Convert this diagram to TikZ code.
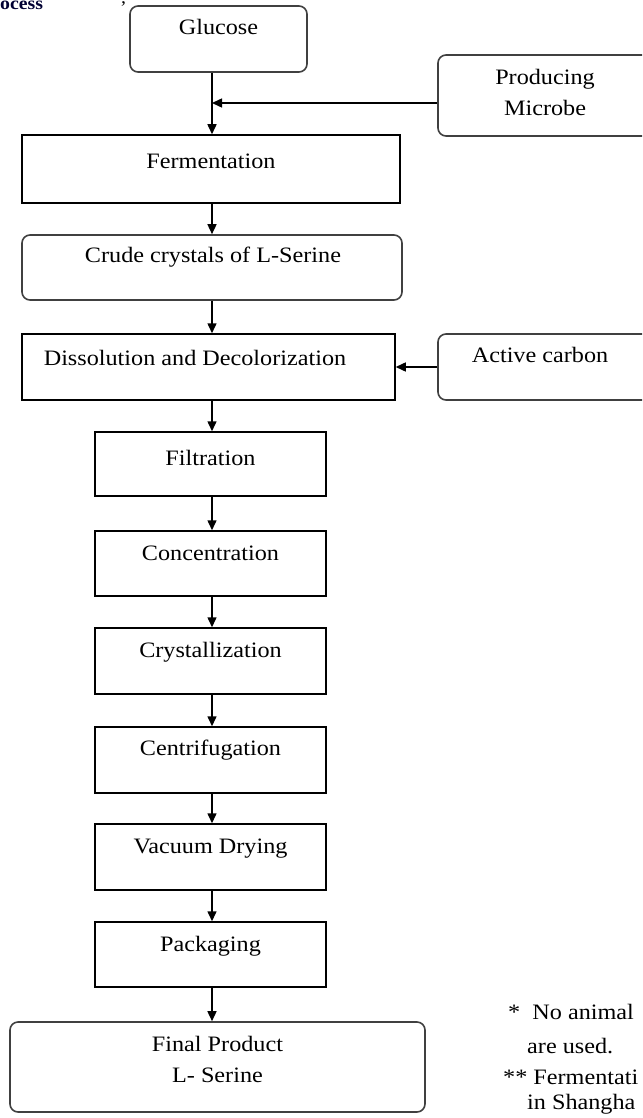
\documentclass[tikz,border=0pt]{standalone}
\usepackage{fontspec}
\setmainfont{Liberation Serif}[FakeStretch=1.1]
\usetikzlibrary{arrows.meta,calc}
\begin{document}
\begin{tikzpicture}[x=1pt,y=-1pt,
  box/.style={draw=black,line width=1.5pt,minimum width=#1,inner sep=0pt},
  rbox/.style={draw=black!75,line width=1.6pt,rounded corners=8pt,minimum width=#1,inner sep=0pt},
  txt/.style={font=\fontsize{22}{31}\selectfont,align=center,inner sep=0pt},
  arr/.style={line width=1.5pt,-{Triangle[length=10pt,width=9pt]}}]
\useasboundingbox (0,0) rectangle (642,1118);
\clip (0,0) rectangle (642,1118);
\coordinate (s) at (212,0);
% boxes
\node[rbox=177pt,minimum height=66pt] (glu) at (218.5,39) {};
\node[rbox=230pt,minimum height=81pt] (mic) at (553,95.5) {};
\node[box=378pt,minimum height=68pt] (fer) at (211,169) {};
\node[rbox=380pt,minimum height=65pt] (cru) at (212,267.5) {};
\node[box=373pt,minimum height=66pt] (dis) at (208.5,367) {};
\node[rbox=230pt,minimum height=66pt] (act) at (553,367) {};
\node[box=231pt,minimum height=64pt] (fil) at (210.5,464) {};
\node[box=231pt,minimum height=65pt] (con) at (210.5,563.5) {};
\node[box=231pt,minimum height=66pt] (cry) at (210.5,661) {};
\node[box=231pt,minimum height=66pt] (cen) at (210.5,760) {};
\node[box=231pt,minimum height=66pt] (vac) at (210.5,857) {};
\node[box=231pt,minimum height=65pt] (pac) at (210.5,954.5) {};
\node[rbox=415pt,minimum height=90pt] (fin) at (217.5,1067) {};
% texts
\node[txt] (tglu) at (218.5,27) {Glucose};
\node[txt] (tmic) at (545,92.5) {Producing\\Microbe};
\node[txt] (tfer) at (211,161) {Fermentation};
\node[txt] (tcru) at (213,257) {Crude crystals of L-Serine};
\node[txt] (tdis) at (195,358) {Dissolution and Decolorization};
\node[txt] (tact) at (540,355) {Active carbon};
\node[txt] (tfil) at (210.5,458) {Filtration};
\node[txt] (tcon) at (210.5,553) {Concentration};
\node[txt] (tcry) at (210.5,652) {Crystallization};
\node[txt] (tcen) at (210.5,750) {Centrifugation};
\node[txt] (tvac) at (210.5,849) {Vacuum Drying};
\node[txt] (tpac) at (210.5,946) {Packaging};
\node[txt] (tfin) at (217.5,1059.5) {Final Product\\L- Serine};
% stray texts
\node[anchor=north west,inner sep=0pt,font=\fontsize{18}{20}\selectfont\bfseries,text=black!80!blue] (proc) at (0,1) {ocess};
\node[anchor=north west,inner sep=0pt,font=\fontsize{18}{20}\selectfont] (comma) at (121,1) {,};
\node[txt,anchor=west] (f1) at (508,1012) {*\ \ No animal};
\node[txt,anchor=west] (f2) at (527,1046) {are used.};
\node[txt,anchor=west] (f3) at (503,1077) {** Fermentati};
\node[txt,anchor=west] (f4) at (527,1104) {in Shangha};
% connectors
\coordinate (m) at (212,103);
\draw[arr] (glu.south -| s) -- (fer.north -| s);
\draw[arr] (mic.west |- m) -- (m);
\draw[arr] (fer.south -| s) -- (cru.north -| s);
\draw[arr] (cru.south -| s) -- (dis.north -| s);
\draw[arr] (act.west) -- (dis.east);
\draw[arr] (dis.south -| s) -- (fil.north -| s);
\draw[arr] (fil.south -| s) -- (con.north -| s);
\draw[arr] (con.south -| s) -- (cry.north -| s);
\draw[arr] (cry.south -| s) -- (cen.north -| s);
\draw[arr] (cen.south -| s) -- (vac.north -| s);
\draw[arr] (vac.south -| s) -- (pac.north -| s);
\draw[arr] (pac.south -| s) -- (fin.north -| s);
\end{tikzpicture}
\end{document}
